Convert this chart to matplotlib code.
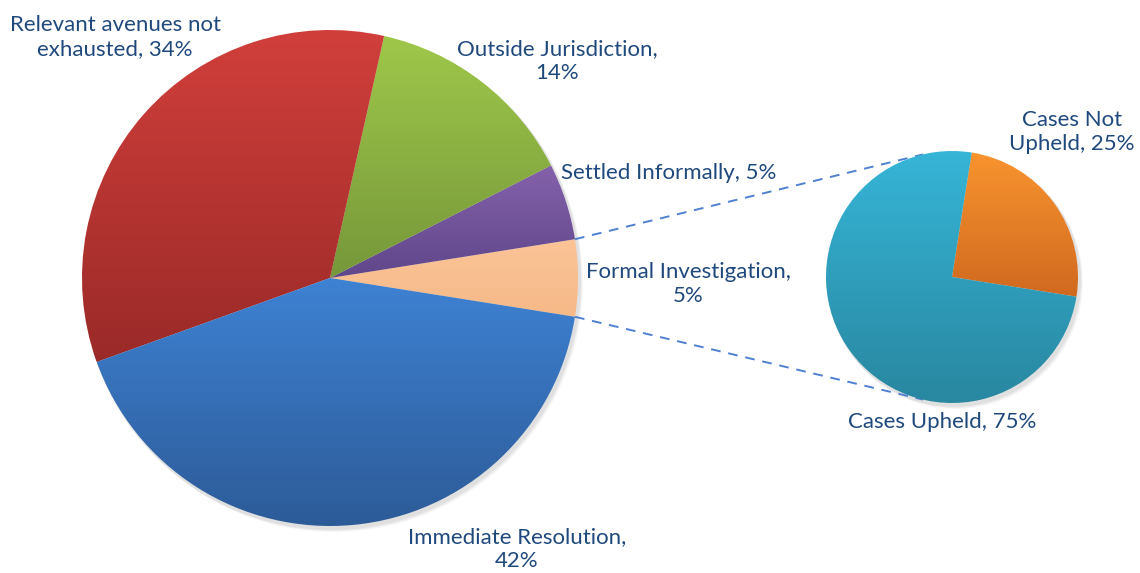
import numpy as np
import matplotlib.pyplot as plt
from matplotlib.patches import Wedge, Circle
from matplotlib.colors import to_rgb

# main pie, counter-clockwise from the exploded slice
main_labels = ['Formal Investigation,\n5%', 'Settled Informally, 5%',
               'Outside Jurisdiction,\n14%', 'Relevant avenues not\nexhausted, 34%',
               'Immediate Resolution,\n42%']
main_values = [5, 5, 14, 34, 42]
main_top = ['#fbc497', '#8462ab', '#9fc84a', '#d13f3b', '#3e82d3']
main_bottom = ['#f6b988', '#60468a', '#76973a', '#9a2a28', '#2d5b98']

# second pie (breakdown of formal investigations)
sub_labels = ['Cases Not\nUpheld, 25%', 'Cases Upheld, 75%']
sub_values = [25, 75]
sub_top = ['#f9942f', '#36b5d7']
sub_bottom = ['#d0691f', '#2987a0']

text_color = '#1f497d'
plt.rcParams['font.family'] = ['Lato', 'DejaVu Sans']

fig = plt.figure(figsize=(11.4, 5.73), dpi=100)
ax = fig.add_axes([0, 0, 1, 1])


def draw_pie(center, radius, values, tops, bottoms, start):
    total = float(sum(values))
    # soft shadow
    for i, a in enumerate([0.05, 0.04, 0.03]):
        ax.add_patch(Circle((center[0] + 2 + i, center[1] + 3 + i), radius + 1,
                            color='black', alpha=a, lw=0, zorder=1))
    theta = start
    for v, ct, cb in zip(values, tops, bottoms):
        span = 360.0 * v / total
        # y axis is inverted, so angles run clockwise on screen -> negate
        w = Wedge(center, radius, -(theta + span), -theta, lw=0,
                  facecolor='none', zorder=2)
        ax.add_patch(w)
        ext = w.get_path().get_extents()
        grad = np.linspace(0, 1, 256)[:, None, None]
        img = (1 - grad) * np.array(to_rgb(ct)) + grad * np.array(to_rgb(cb))
        im = ax.imshow(img, extent=(ext.x0, ext.x1, ext.y1, ext.y0),
                       origin='upper', aspect='auto', zorder=2,
                       interpolation='bilinear')
        im.set_clip_path(w)
        theta += span


c1, r1 = (330, 278), 248
c2, r2 = (952, 277), 126
start1 = -180.0 * main_values[0] / sum(main_values)
draw_pie(c1, r1, main_values, main_top, main_bottom, start1)
draw_pie(c2, r2, sub_values, sub_top, sub_bottom, -9)

# connector lines from the exploded slice to the second pie
half = np.deg2rad(180.0 * main_values[0] / sum(main_values))
for sgn in (-1, 1):
    p1 = (c1[0] + r1 * np.cos(half), c1[1] + sgn * r1 * np.sin(half))
    p2 = (c2[0] - 0.23 * r2, c2[1] + sgn * 0.973 * r2)
    ax.plot([p1[0], p2[0]], [p1[1], p2[1]], ls=(0, (5, 4)), color='#4f81d0',
            lw=1.4, zorder=1)

main_pos = [(688, 284), (669, 173), (557, 61), (115, 37), (517, 549)]
sub_pos = [(1072, 132), (942, 422)]
for lab, pos in zip(main_labels + sub_labels, main_pos + sub_pos):
    ax.text(pos[0], pos[1], lab, ha='center', va='center', fontsize=16,
            color=text_color, linespacing=1.3, zorder=3)

ax.set_xlim(0, 1140)
ax.set_ylim(573, 0)
ax.set_aspect('equal')
ax.axis('off')
fig.savefig('out.png', dpi=100, facecolor='white')
